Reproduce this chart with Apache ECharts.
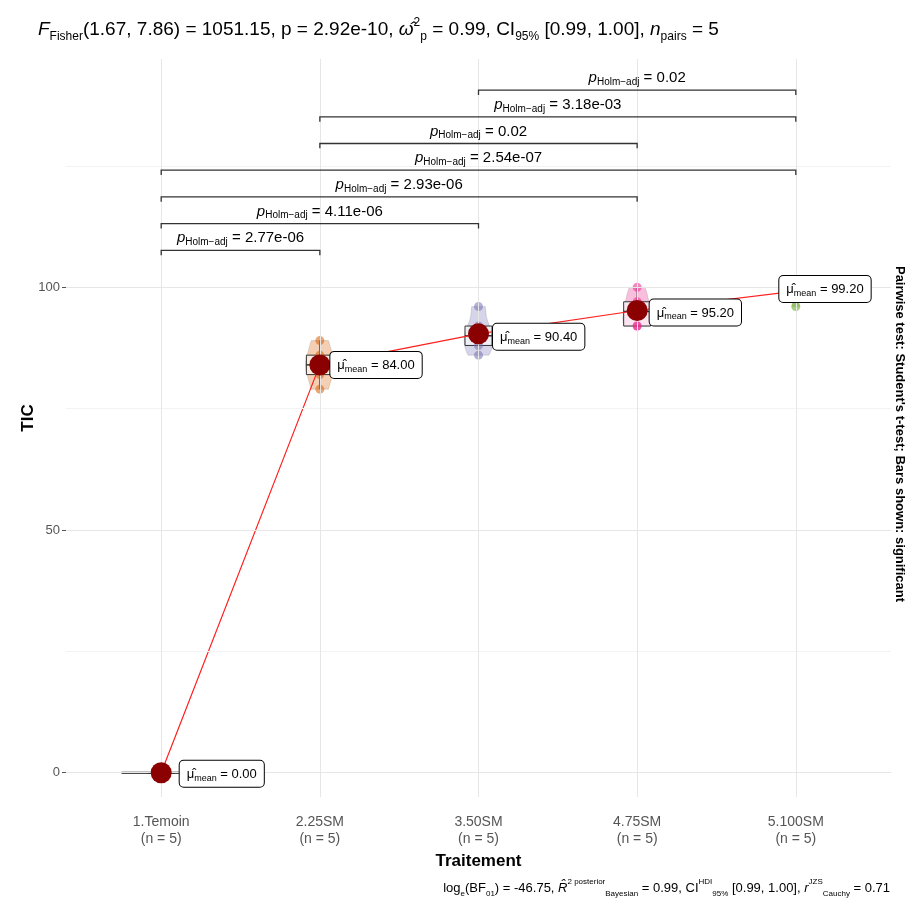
<!DOCTYPE html>
<html><head><meta charset="utf-8">
<script src="https://cdn.jsdelivr.net/npm/echarts@6/dist/echarts.min.js"></script>
<style>html,body{margin:0;padding:0;background:#fff}#c{width:909px;height:903px}</style>
</head><body><div id="c"></div><script>
// ---------- data ----------
const categories = ['1.Temoin', '2.25SM', '3.50SM', '4.75SM', '5.100SM'];
const groupSizes = [5, 5, 5, 5, 5];
const groupValues = [
  [0, 0, 0, 0, 0],
  [79, 82, 84, 86, 89],
  [86, 88, 90, 92, 96],
  [92, 92, 95, 97, 100],
  [96, 100, 100, 100, 100]
];
const meanValues = [0.00, 84.00, 90.40, 95.20, 99.20];
const groupColors = ['#1B9E77', '#D95F02', '#7570B3', '#E7298A', '#66A61E'];
const yTickValues = [0, 50, 100];
const yMinorValues = [25, 75, 125];
const pairFrom = [1, 1, 1, 1, 2, 2, 3];
const pairTo = [2, 3, 4, 5, 4, 5, 5];
const pairP = ['2.77e-06', '4.11e-06', '2.93e-06', '2.54e-07', '0.02', '3.18e-03', '0.02'];
const pairLevel = [107.6, 113.1, 118.6, 124.1, 129.6, 135.1, 140.6];
const meanLabelOffset = [[8, 1], [0, 0], [4, 3], [2, 2], [-27, -2]];

// ---------- helpers ----------
const FONT = 'Liberation Sans, Arial, Helvetica, sans-serif';
function quantile(s, p) { const h = (s.length - 1) * p; const lo = Math.floor(h); const hi = Math.min(lo + 1, s.length - 1); return s[lo] + (h - lo) * (s[hi] - s[lo]); }
const boxStats = groupValues.map(v => {
  const s = v.slice().sort((a, b) => a - b);
  const q1 = quantile(s, 0.25), q3 = quantile(s, 0.75), med = quantile(s, 0.5);
  const iqr = q3 - q1;
  const lo = Math.min(...s.filter(x => x >= q1 - 1.5 * iqr));
  const hi = Math.max(...s.filter(x => x <= q3 + 1.5 * iqr));
  return { q1, q3, med, lo, hi, s };
});
function violinShape(vals) {
  const n = vals.length; const m = vals.reduce((a, b) => a + b, 0) / n;
  const sd = Math.sqrt(vals.reduce((a, b) => a + (b - m) * (b - m), 0) / (n - 1));
  if (sd === 0) return null;
  const s = vals.slice().sort((a, b) => a - b);
  const iqr = quantile(s, 0.75) - quantile(s, 0.25);
  let lo = Math.min(sd, iqr / 1.34); if (!lo) lo = sd;
  const bw = 0.9 * lo * Math.pow(n, -0.2);
  const pts = [];
  const mn = s[0], mx = s[n - 1];
  for (let k = 0; k <= 40; k++) {
    const y = mn + (mx - mn) * k / 40;
    let d = 0; vals.forEach(v => { const z = (y - v) / bw; d += Math.exp(-0.5 * z * z); });
    pts.push([y, d]);
  }
  const md = Math.max(...pts.map(p => p[1]));
  return pts.map(p => [p[0], p[1] / md]);
}
const violins = groupValues.map(violinShape);

const chart = echarts.init(document.getElementById('c'), null, { renderer: 'canvas' });
const richTitle = {
  it: { fontStyle: 'italic', fontSize: 19, fontFamily: FONT, lineHeight: 26, color: '#000' },
  n: { fontSize: 19, fontFamily: FONT, lineHeight: 26, color: '#000' },
  sub: { fontSize: 12, fontFamily: FONT, lineHeight: 13, verticalAlign: 'bottom', color: '#000' },
  sup: { fontSize: 12, fontFamily: FONT, lineHeight: 13, verticalAlign: 'top', color: '#000' }
};

const option = {
  backgroundColor: '#fff',
  animation: false,
  grid: { left: 66, right: 18, top: 59, bottom: 106 },
  xAxis: {
    type: 'value', min: 0.4, max: 5.6,
    axisLine: { show: false },
    splitLine: { show: false },
    axisTick: { show: true, customValues: [1, 2, 3, 4, 5], length: 4, lineStyle: { color: '#555' } },
    axisLabel: {
      customValues: [1, 2, 3, 4, 5], margin: 17, color: '#555', fontSize: 14, fontFamily: FONT, lineHeight: 17,
      formatter: v => categories[Math.round(v) - 1] + '\n(n = ' + groupSizes[Math.round(v) - 1] + ')'
    },
    name: 'Traitement', nameLocation: 'middle', nameGap: 53,
    nameTextStyle: { fontWeight: 'bold', fontSize: 17, color: '#000', fontFamily: FONT }
  },
  yAxis: {
    type: 'value', min: -5, max: 147,
    axisLine: { show: false },
    splitLine: { show: false },
    axisTick: { show: true, customValues: yTickValues, length: 4, lineStyle: { color: '#555' } },
    axisLabel: { customValues: yTickValues, margin: 6, color: '#555', fontSize: 13, fontFamily: FONT }
  },
  graphic: [
    {
      type: 'text', x: 28, y: 418, rotation: Math.PI / 2, style: {
        text: 'TIC', fill: '#000', fontWeight: 'bold', fontSize: 17, fontFamily: FONT, align: 'center', verticalAlign: 'middle'
      }
    },
    {
      type: 'text', x: 38, y: 30, style: {
        text: '{it|F}{sub|Fisher}{n|(1.67, 7.86) = 1051.15, p = 2.92e-10, }{it|ω̂}{sup|2}{sub|p}{n| = 0.99, CI}{sub|95%}{n| [0.99, 1.00], }{it|n}{sub|pairs}{n| = 5}',
        rich: richTitle, fill: '#000', align: 'left', verticalAlign: 'middle', fontFamily: FONT, fontSize: 19
      }
    },
    {
      type: 'text', x: 890, y: 888, style: {
        text: '{n|log}{sub|e}{n|(BF}{sub|01}{n|) = -46.75, }{it|R̂}{sup|2 posterior}{sub|Bayesian}{n| = 0.99, CI}{sup|HDI}{sub|95%}{n| [0.99, 1.00], }{it|r}{sup|JZS}{sub|Cauchy}{n| = 0.71}',
        rich: {
          it: { fontStyle: 'italic', fontSize: 13, fontFamily: FONT, lineHeight: 20, color: '#000' },
          n: { fontSize: 13, fontFamily: FONT, lineHeight: 20, color: '#000' },
          sub: { fontSize: 8, fontFamily: FONT, lineHeight: 10, verticalAlign: 'bottom', color: '#000' },
          sup: { fontSize: 8, fontFamily: FONT, lineHeight: 10, verticalAlign: 'top', color: '#000' }
        },
        fill: '#000', align: 'right', verticalAlign: 'middle'
      }
    },
    {
      type: 'text', x: 900, y: 434, rotation: -Math.PI / 2, style: {
        text: "Pairwise test: Student's t-test; Bars shown: significant",
        fill: '#000', fontWeight: 'bold', fontSize: 13, fontFamily: FONT, align: 'center', verticalAlign: 'middle'
      }
    }
  ],
  series: [
    {
      type: 'line', data: [[1, 0]], symbol: 'none', lineStyle: { opacity: 0 }, silent: true, z: 0,
      markLine: {
        silent: true, symbol: 'none', label: { show: false }, animation: false,
        data: [
          ...yMinorValues.map(v => ({ yAxis: v, lineStyle: { color: '#f3f3f3', width: 1, type: 'solid' } })),
          ...yTickValues.map(v => ({ yAxis: v, lineStyle: { color: '#e6e6e6', width: 1, type: 'solid' } })),
          ...categories.map((c, i) => ({ xAxis: i + 1, lineStyle: { color: '#e6e6e6', width: 1, type: 'solid' } }))
        ]
      }
    },
    {
      type: 'custom', z: 1, silent: true,
      data: categories.map((c, i) => [i + 1, meanValues[i]]),
      encode: { x: 0, y: 1 },
      renderItem: (params, api) => {
        const gi = params.dataIndex; const x = gi + 1;
        const cx = api.coord([x, 0])[0];
        const v = violins[gi];
        if (!v) {
          const hw = api.size([0.25, 0])[0];
          const y0 = api.coord([x, groupValues[gi][0]])[1];
          return { type: 'line', shape: { x1: cx - hw, y1: y0, x2: cx + hw, y2: y0 }, style: { stroke: '#111', lineWidth: 2 } };
        }
        const hw = api.size([0.09, 0])[0];
        const left = v.map(p => [cx - hw * p[1], api.coord([x, p[0]])[1]]);
        const right = v.slice().reverse().map(p => [cx + hw * p[1], api.coord([x, p[0]])[1]]);
        return { type: 'polygon', shape: { points: left.concat(right) }, style: { fill: groupColors[gi], opacity: 0.3, stroke: '#444', lineWidth: 0.5 } };
      }
    },
    {
      type: 'custom', z: 2, silent: true,
      data: categories.map((c, i) => [i + 1, meanValues[i]]),
      encode: { x: 0, y: 1 },
      renderItem: (params, api) => {
        const gi = params.dataIndex; const s = boxStats[gi]; const x = gi + 1;
        const cx = api.coord([x, 0])[0];
        const hw = api.size([0.085, 0])[0];
        const y = val => api.coord([x, val])[1];
        return {
          type: 'group', children: [
            { type: 'line', shape: { x1: cx, y1: y(s.lo), x2: cx, y2: y(s.q1) }, style: { stroke: '#333', lineWidth: 1 } },
            { type: 'line', shape: { x1: cx, y1: y(s.q3), x2: cx, y2: y(s.hi) }, style: { stroke: '#333', lineWidth: 1 } },
            { type: 'rect', shape: { x: cx - hw, y: y(s.q3), width: 2 * hw, height: Math.max(0.5, y(s.q1) - y(s.q3)) }, style: { fill: 'rgba(255,255,255,0.6)', stroke: '#333', lineWidth: 1 } },
            { type: 'line', shape: { x1: cx - hw, y1: y(s.med), x2: cx + hw, y2: y(s.med) }, style: { stroke: '#333', lineWidth: 1.5 } }
          ]
        };
      }
    },
    {
      type: 'scatter', z: 3, silent: true, symbolSize: 9,
      data: groupValues.flatMap((vals, gi) => vals.map(v => ({ value: [gi + 1, v], itemStyle: { color: groupColors[gi], opacity: 0.55 } })))
    },
    {
      type: 'line', z: 4, silent: true, symbol: 'none',
      data: meanValues.map((m, i) => [i + 1, m]),
      lineStyle: { color: '#ff2020', width: 1.2 }
    },
    {
      type: 'scatter', z: 5, silent: true, symbolSize: 21,
      itemStyle: { color: '#8B0000', opacity: 1 },
      data: meanValues.map((m, i) => ({
        value: [i + 1, m],
        label: {
          show: true, position: 'right', distance: 0,
          formatter: '{mu|μ̂}{sub|mean}{n| = ' + m.toFixed(2) + '}',
          backgroundColor: '#fff', borderColor: '#000', borderWidth: 1, borderRadius: 4, padding: [5, 7, 4, 7],
          rich: {
            mu: { fontSize: 13, fontFamily: FONT, lineHeight: 17, color: '#000' },
            n: { fontSize: 13, fontFamily: FONT, lineHeight: 17, color: '#000' },
            sub: { fontSize: 9, fontFamily: FONT, lineHeight: 10, verticalAlign: 'bottom', color: '#000' }
          }
        }
      })),
      labelLayout: params => ({ dx: meanLabelOffset[params.dataIndex][0], dy: meanLabelOffset[params.dataIndex][1], hideOverlap: false })
    },
    {
      type: 'custom', z: 6, silent: true,
      data: pairFrom.map((f, i) => [f, pairTo[i], pairLevel[i], i]),
      encode: { x: [0, 1], y: 2 },
      renderItem: (params, api) => {
        const p1 = api.coord([api.value(0), api.value(2)]);
        const p2 = api.coord([api.value(1), api.value(2)]);
        const t = api.size([0, 1.0])[1];
        const idx = api.value(3);
        return {
          type: 'group', children: [
            { type: 'polyline', shape: { points: [[p1[0], p1[1] + t], [p1[0], p1[1]], [p2[0], p2[1]], [p2[0], p2[1] + t]] }, style: { stroke: '#333', lineWidth: 1.3, fill: null } },
            {
              type: 'text', x: (p1[0] + p2[0]) / 2, y: p1[1] - 3, style: {
                text: '{it|p}{sub|Holm−adj}{n| = ' + pairP[idx] + '}',
                align: 'center', verticalAlign: 'bottom', fill: '#000',
                rich: {
                  it: { fontStyle: 'italic', fontSize: 15, fontFamily: FONT, lineHeight: 18, color: '#000' },
                  n: { fontSize: 15, fontFamily: FONT, lineHeight: 18, color: '#000' },
                  sub: { fontSize: 10, fontFamily: FONT, lineHeight: 10, verticalAlign: 'bottom', color: '#000' }
                }
              }
            }
          ]
        };
      }
    }
  ]
};
chart.setOption(option);
</script></body></html>
